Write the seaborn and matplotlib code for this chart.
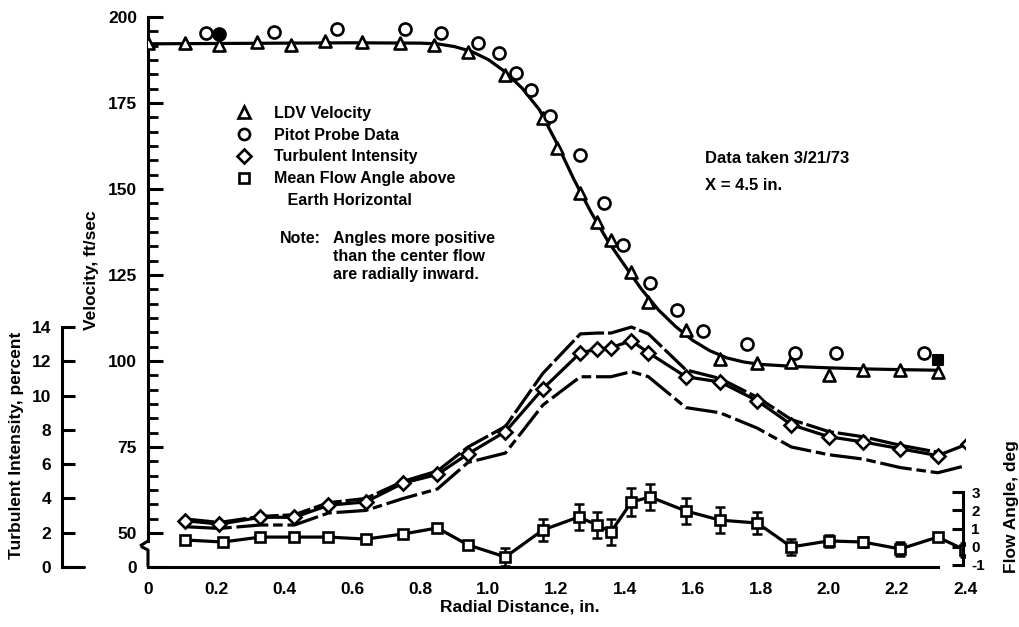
import numpy as np
import matplotlib
matplotlib.use("Agg")
import matplotlib.pyplot as plt
from matplotlib.lines import Line2D
from matplotlib.ticker import FixedLocator, FixedFormatter
import seaborn as sns

# ---------------- measured data ----------------
# LDV velocity (ft/sec) vs radial distance (in.)
ldv_x = [0.00, 0.11, 0.21, 0.32, 0.42, 0.52, 0.63, 0.74, 0.84, 0.94, 1.05, 1.16,
         1.20, 1.27, 1.32, 1.36, 1.42, 1.47, 1.58, 1.68, 1.79, 1.89, 2.00, 2.10,
         2.21, 2.32]
ldv_v = [192.3, 192.3, 192.0, 192.6, 191.8, 193.0, 192.8, 192.3, 192.0, 189.8, 183.1, 170.6,
         161.9, 148.8, 140.4, 135.2, 125.9, 117.2, 109.0, 100.6, 99.4, 99.8, 96.0, 97.4,
         97.4, 96.8]

# faired velocity profile
fit_x = [0.00, 0.20, 0.40, 0.60, 0.80, 0.85, 0.90, 0.95, 1.00, 1.05, 1.10, 1.15,
         1.20, 1.25, 1.30, 1.35, 1.40, 1.45, 1.50, 1.55, 1.60, 1.65, 1.70, 1.75,
         1.80, 1.90, 2.00, 2.10, 2.20, 2.32]
fit_v = [192.2, 192.3, 192.4, 192.5, 192.4, 192.2, 191.4, 190.0, 187.6, 184.0, 179.2, 173.0,
         163.5, 153.0, 143.5, 135.0, 127.8, 120.8, 114.8, 110.0, 106.0, 103.0, 100.9, 99.7,
         99.0, 98.4, 98.0, 97.7, 97.5, 97.3]

# Pitot probe velocity (ft/sec)
pitot_x = [0.17, 0.37, 0.555, 0.755, 0.86, 0.97, 1.03, 1.08, 1.125, 1.18, 1.27, 1.34,
           1.395, 1.475, 1.555, 1.63, 1.76, 1.90, 2.02, 2.28]
pitot_v = [195.3, 195.6, 196.5, 196.5, 195.3, 192.4, 189.5, 183.7, 178.8, 171.2, 159.9, 145.9,
           133.7, 122.7, 114.8, 108.7, 104.9, 102.3, 102.3, 102.3]
pitot_solid_x = [0.21]
pitot_solid_v = [195.0]
pitot_sq_x = [2.32]
pitot_sq_v = [100.3]

# Turbulent intensity (percent) with upper / lower bounds
ti_x = [0.11, 0.21, 0.33, 0.43, 0.53, 0.64, 0.75, 0.85, 0.94, 1.05, 1.16, 1.27, 1.32,
        1.36, 1.42, 1.47, 1.58, 1.68, 1.79, 1.89, 2.00, 2.10, 2.21, 2.32, 2.41]
ti_val = [2.7, 2.5, 2.9, 2.9, 3.6, 3.8, 4.9, 5.4, 6.6, 7.9, 10.4, 12.5, 12.7,
          12.8, 13.2, 12.5, 11.1, 10.8, 9.7, 8.3, 7.6, 7.3, 6.9, 6.5, 7.2]
ti_hi_x = [0.11, 0.21, 0.33, 0.43, 0.53, 0.64, 0.75, 0.85, 0.94, 1.05, 1.16, 1.27, 1.32,
           1.36, 1.42, 1.47, 1.58, 1.68, 1.79, 1.89, 2.00, 2.10, 2.21, 2.32]
ti_hi = [2.8, 2.6, 2.95, 3.05, 3.75, 4.0, 5.0, 5.6, 7.0, 8.2, 11.3, 13.6, 13.65,
         13.65, 14.0, 13.6, 11.5, 11.0, 9.9, 8.6, 7.9, 7.6, 7.1, 6.7]
ti_lo = [2.35, 2.25, 2.45, 2.45, 3.15, 3.3, 4.0, 4.55, 6.1, 6.65, 9.45, 11.1, 11.1,
         11.1, 11.4, 11.1, 9.3, 9.0, 8.1, 7.0, 6.55, 6.3, 5.8, 5.5, 5.95]

# Mean flow angle above earth horizontal (deg) and scatter band
ang_x = [0.11, 0.22, 0.33, 0.43, 0.53, 0.64, 0.75, 0.85, 0.94, 1.05, 1.16, 1.265, 1.32,
         1.36, 1.42, 1.475, 1.58, 1.68, 1.79, 1.89, 2.00, 2.10, 2.21, 2.32, 2.40]
ang_val = [0.37, 0.26, 0.53, 0.53, 0.53, 0.42, 0.70, 1.03, 0.10, -0.56, 0.92, 1.63, 1.19,
           0.81, 2.45, 2.73, 1.96, 1.46, 1.30, -0.01, 0.32, 0.26, -0.12, 0.53, -0.18]
ang_err = [0, 0, 0, 0, 0, 0, 0, 0, 0, 0.5, 0.6, 0.7, 0.7,
           0.7, 0.75, 0.7, 0.7, 0.7, 0.6, 0.45, 0.35, 0.3, 0.4, 0, 0.4]

x_ticks = [0.0, 0.2, 0.4, 0.6, 0.8, 1.0, 1.2, 1.4, 1.6, 1.8, 2.0, 2.2, 2.4]
x_ticklabels = ["0", "0.2", "0.4", "0.6", "0.8", "1.0", "1.2", "1.4", "1.6", "1.8", "2.0", "2.2", "2.4"]
vel_ticks = [50, 75, 100, 125, 150, 175, 200]
ti_ticks = [0, 2, 4, 6, 8, 10, 12, 14]
ang_ticks = [-1, 0, 1, 2, 3]

# ---------------- styling ----------------
sns.set_theme(style="white", rc={"axes.edgecolor": "black", "axes.linewidth": 2.2,
                                 "xtick.color": "black", "ytick.color": "black",
                                 "text.color": "black"})
plt.rcParams["font.family"] = ["Liberation Sans Narrow", "Liberation Sans", "DejaVu Sans"]
plt.rcParams["font.weight"] = "bold"

W, H = 1020, 627
fig = plt.figure(figsize=(W / 100, H / 100), dpi=100)
fig.patch.set_facecolor("white")


def fx(px):
    return px / W


def fy(py):
    return 1 - py / H


ax = fig.add_axes([fx(148), fy(567), (965 - 148) / W, (567 - 17) / H])
ax.patch.set_alpha(0)

VEL_MIN = 40.1          # velocity at the x-axis line (broken scale)
ax.set_xlim(0, 2.4)
ax.set_ylim(VEL_MIN, 200)

LW = 2.3
mk = dict(markerfacecolor="white", markeredgecolor="black", markeredgewidth=1.9)

# velocity profile
sns.lineplot(x=fit_x, y=fit_v, ax=ax, color="black", lw=LW, sort=False, estimator=None, zorder=3)
sns.scatterplot(x=ldv_x, y=ldv_v, ax=ax, marker="^", s=75, color="white",
                edgecolor="black", linewidth=1.9, zorder=5)
sns.scatterplot(x=pitot_x, y=pitot_v, ax=ax, marker="o", s=75, color="white",
                edgecolor="black", linewidth=1.9, zorder=5)
sns.scatterplot(x=pitot_solid_x, y=pitot_solid_v, ax=ax, marker="o", s=75, color="black",
                edgecolor="black", linewidth=1.9, zorder=5)
sns.scatterplot(x=pitot_sq_x, y=pitot_sq_v, ax=ax, marker="s", s=60, color="black",
                edgecolor="black", linewidth=1.5, zorder=5)

# axes styling (velocity)
for s in ("top", "right"):
    ax.spines[s].set_visible(False)
ax.spines["bottom"].set_bounds(0, 2.32)
vel_break = 200 - (541 - 17) / 3.44
ax.spines["left"].set_bounds(vel_break, 200)

ax.xaxis.set_major_locator(FixedLocator(x_ticks))
ax.xaxis.set_major_formatter(FixedFormatter(x_ticklabels))
ax.yaxis.set_major_locator(FixedLocator([VEL_MIN] + vel_ticks))
ax.yaxis.set_major_formatter(FixedFormatter(["0"] + [str(v) for v in vel_ticks]))
minor = [v for v in np.arange(50, 200, 25 / 6) if all(abs(v - m) > 0.5 for m in vel_ticks)]
ax.yaxis.set_minor_locator(FixedLocator(minor))
ax.tick_params(axis="x", direction="in", length=8, width=2.2, labelsize=12.5, pad=11)
ax.tick_params(axis="y", which="major", direction="in", length=11, width=2.2, labelsize=12.5, pad=8)
ax.tick_params(axis="y", which="minor", direction="in", length=7, width=2.0, left=True)
ax.set_xlabel("")
ax.set_ylabel("")

# broken-scale symbol on the velocity axis
def axc(px, py):
    return (px - 148) / 817, (567 - py) / 550

pts_up = [axc(148, 541), axc(140, 546)]
pts_lo = [axc(148, 567), axc(148, 550), axc(141, 546.5)]
for pts in (pts_up, pts_lo):
    ax.plot([p[0] for p in pts], [p[1] for p in pts], transform=ax.transAxes,
            color="black", lw=2.2, clip_on=False, solid_capstyle="butt")

# turbulent intensity on its own left axis
axt = ax.twinx()
axt.set_ylim(0, (567 - 17) / 17.14)
for s in axt.spines.values():
    s.set_visible(False)
axt.spines["left"].set_visible(True)
axt.spines["left"].set_position(("axes", (62 - 148) / 817))
axt.spines["left"].set_bounds(0, 14)
axt.yaxis.set_ticks_position("left")
axt.yaxis.set_major_locator(FixedLocator(ti_ticks))
axt.yaxis.set_major_formatter(FixedFormatter([str(t) for t in ti_ticks]))
axt.tick_params(axis="y", direction="in", length=9, width=2.2, labelsize=12.5, pad=8)
axt.plot([(62 - 148) / 817, (84 - 148) / 817], [0, 0], transform=axt.get_yaxis_transform(),
         color="black", lw=2.2, clip_on=False)

sns.lineplot(x=ti_hi_x, y=ti_hi, ax=axt, color="black", lw=LW, sort=False, estimator=None,
             linestyle=(0, (9, 1.2)))
sns.lineplot(x=ti_x, y=ti_lo, ax=axt, color="black", lw=LW, sort=False, estimator=None,
             linestyle=(0, (10, 1.5, 3, 1.5)))
sns.lineplot(x=ti_x, y=ti_val, ax=axt, color="black", lw=LW, sort=False, estimator=None,
             marker="D", markersize=7.5, **mk)
axt.set_xlabel("")
axt.set_ylabel("")

# mean flow angle on a short right axis
axf = ax.twinx()
axf.set_ylim((546.75 - 567) / 18.25, (546.75 - 17) / 18.25)
for s in axf.spines.values():
    s.set_visible(False)
axf.spines["right"].set_visible(True)
axf.spines["right"].set_position(("axes", (963 - 148) / 817))
axf.spines["right"].set_bounds(-1, 3)
axf.yaxis.set_ticks_position("right")
axf.yaxis.set_major_locator(FixedLocator(ang_ticks))
axf.yaxis.set_major_formatter(FixedFormatter([str(t) for t in ang_ticks]))
axf.tick_params(axis="y", direction="in", length=8, width=2.2, labelsize=11, pad=6)

ex = [x for x, e in zip(ang_x, ang_err) if e > 0]
ey = [y for y, e in zip(ang_val, ang_err) if e > 0]
ee = [e for e in ang_err if e > 0]
axf.errorbar(ex, ey, yerr=ee, fmt="none", ecolor="black", elinewidth=1.8, capsize=3.5,
             capthick=1.8, zorder=2)
sns.lineplot(x=ang_x, y=ang_val, ax=axf, color="black", lw=LW, sort=False, estimator=None,
             marker="s", markersize=7.5, **mk)
axf.set_xlabel("")
axf.set_ylabel("")

# legend
handles = [
    Line2D([], [], ls="none", marker="^", markersize=8, **mk),
    Line2D([], [], ls="none", marker="o", markersize=8, **mk),
    Line2D([], [], ls="none", marker="D", markersize=7, **mk),
    Line2D([], [], ls="none", marker="s", markersize=7, **mk),
    Line2D([], [], ls="none", marker=""),
]
labels = ["LDV Velocity", "Pitot Probe Data", "Turbulent Intensity",
          "Mean Flow Angle above", "   Earth Horizontal"]
ax.legend(handles, labels, loc="upper left", bbox_to_anchor=(fx(236), fy(106)),
          bbox_transform=fig.transFigure, frameon=False, fontsize=11.5,
          handlelength=1.0, handletextpad=1.4, labelspacing=0.42,
          borderpad=0, borderaxespad=0)

# annotations
fig.text(fx(280), fy(239), "Note:", fontsize=11.5, va="center", ha="left")
fig.text(fx(333), fy(256), "Angles more positive\nthan the center flow\nare radially inward.",
         fontsize=11.5, va="center", ha="left", linespacing=1.25)
fig.text(fx(705), fy(158), "Data taken 3/21/73", fontsize=12, va="center", ha="left")
fig.text(fx(705), fy(186), "X = 4.5 in.", fontsize=12, va="center", ha="left")

# axis titles
fig.text(fx(520), fy(607), "Radial Distance, in.", fontsize=12.5, ha="center", va="center")
fig.text(fx(92), fy(270), "Velocity, ft/sec", fontsize=12.5, rotation=90, ha="center", va="center")
fig.text(fx(17), fy(445), "Turbulent Intensity, percent", fontsize=12.5, rotation=90,
         ha="center", va="center")
fig.text(fx(1012), fy(507), "Flow Angle, deg", fontsize=12.5, rotation=90,
         ha="center", va="center")

fig.savefig("out.png", dpi=100, facecolor="white")
